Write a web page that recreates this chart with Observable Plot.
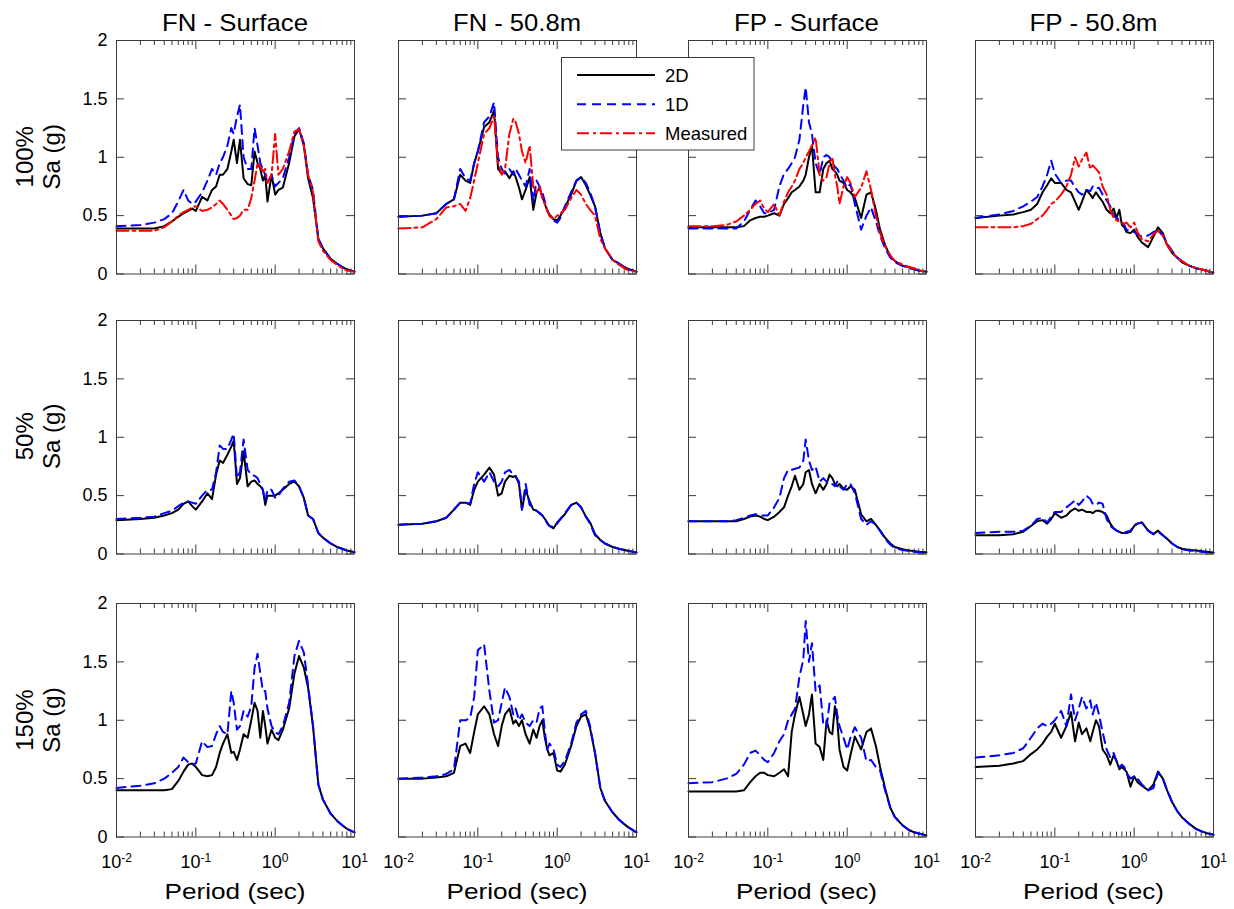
<!DOCTYPE html>
<html>
<head>
<meta charset="utf-8">
<script src="https://cdn.jsdelivr.net/npm/d3@7"></script>
<script src="https://cdn.jsdelivr.net/npm/@observablehq/plot@0.6"></script>
<style>
  html, body { margin: 0; padding: 0; background: #ffffff; }
  #chart { position: relative; width: 1234px; height: 909px; overflow: hidden; font-family: "Liberation Sans", Arial, sans-serif; }
  #chart svg { position: absolute; }
</style>
</head>
<body>
<div id="chart"></div>
<script>
// ---------------- DATA ----------------
const period = [0.01,0.02,0.03,0.04,0.05,0.06,0.07,0.08,0.09,0.1,0.12,0.14,0.16,0.18,0.2,0.22,0.25,0.28,0.3,0.33,0.36,0.4,0.45,0.5,0.55,0.6,0.65,0.7,0.75,0.8,0.9,1,1.1,1.25,1.5,1.75,2,2.3,2.6,3,3.5,4,5,6,7,8,10];

const columnTitles = ["FN - Surface", "FN - 50.8m", "FP - Surface", "FP - 50.8m"];
const rowLabels = ["100%", "50%", "150%"];
const yAxisLabel = "Sa (g)";
const xAxisLabel = "Period (sec)";
const yTickValues = [0, 0.5, 1, 1.5, 2];
const xTickValues = [0.01, 0.1, 1, 10];
const xMinorTickValues = [0.02,0.03,0.04,0.05,0.06,0.07,0.08,0.09,0.2,0.3,0.4,0.5,0.6,0.7,0.8,0.9,2,3,4,5,6,7,8,9];
const seriesNames = ["2D", "1D", "Measured"];

// Row 1 (100%)
const fnSurf100_2D   = [.39,.39,.39,.41,.45,.49,.52,.54,.56, .54,.66,.63,.72,.75, .85,.85,.9,1.05, 1.15,.95,1.15, .82,.77, .76,1.05, .95,.9, .8,.85, .62,.85, .68,.72,.74,.95,1.18, 1.24,1.1,.82, .65,.3, .22,.13,.09,.06,.04,.02];
const fnSurf100_1D   = [.41,.42,.44,.47,.52,.62,.72,.63,.6, .62,.7,.8,.9,.85, .95,1.0,1.1,1.25, 1.2,1.35,1.45, 1.0,.9, .9,1.25, 1.1,.95, .9,.85, .78,.85, .75,.78,.82,1.0,1.2, 1.25,1.12,.85, .72,.3, .22,.13,.09,.06,.04,.02];
const fnSurf100_meas = [.37,.37,.37,.4,.45,.5,.53,.55,.57, .58,.54,.55,.57,.6, .63,.6,.55,.5, .47,.48,.5, .55,.55, .65,.8, .95,.92, .88,.9, .78,.85, 1.2,.85,.9,1.05,1.22, 1.24,1.1,.85, .7,.28, .2,.12,.08,.05,.03,.02];

const fn508_100_2D   = [.49,.5,.52,.6,.64,.85,.8,.78,.95, 1.05,1.26,1.3,1.4,.9, .86,.88,.82,.88, .83,.74,.64, .72,.83, .55,.7, .74,.66, .6,.54, .51,.47, .46,.5,.57,.68,.8, .83,.76,.68, .58,.35, .22,.12,.09,.06,.04,.02];
const fn508_100_1D   = [.49,.5,.52,.6,.64,.9,.82,.8,.95, 1.05,1.3,1.35,1.47,1.0, .9,.86,.9,.85, .9,.85,.8, .75,.9, .62,.8, .75,.7, .62,.55, .5,.46, .44,.48,.58,.7,.8, .83,.78,.7, .58,.35, .22,.12,.09,.06,.04,.02];
const fn508_100_meas = [.39,.4,.47,.57,.58,.6,.54,.65,.8, .95,1.2,1.25,1.35,.95, .85,.9,1.2,1.33, 1.3,1.2,1.05, .95,1.1, .75,.7, .75,.65, .6,.55, .5,.47, .5,.52,.55,.65,.72, .68,.6,.55, .5,.3, .22,.12,.08,.05,.03,.02];

const fpSurf100_2D   = [.4,.4,.4,.4,.41,.46,.48,.49,.49, .5,.52,.5,.6,.65, .7,.72,.75,.8, .85,1.0,1.1, .7,.7, .9,.95, .97,.9, .88,.85, .8,.78, .72,.7,.65,.48,.68, .7,.55,.38, .25,.15, .11,.07,.06,.04,.03,.02];
const fpSurf100_1D   = [.39,.39,.39,.39,.45,.55,.63,.58,.52, .52,.55,.75,.86,.9, .95,1.0,1.15,1.45, 1.6,1.3,1.2, .95,.85, 1.0,1.02, 1.0,.95, .92,.9, .86,.8, .74,.77,.6,.38,.5, .57,.45,.33, .22,.14, .1,.07,.05,.04,.03,.02];
const fpSurf100_meas = [.41,.41,.42,.45,.5,.55,.6,.63,.56, .53,.6,.5,.62,.7, .75,.8,.9,.95, 1.0,1.05,1.1, 1.17,.85, .8,.83, .95,1.0, .85,.75, .6,.75, .83,.78,.66,.74,.88, .72,.5,.35, .24,.16, .11,.08,.06,.05,.03,.02];

const fp508_100_2D   = [.48,.5,.51,.53,.55,.6,.7,.76,.82, .78,.78,.72,.7,.62, .55,.62,.72,.68, .65,.7,.66, .62,.55, .52,.56, .48,.55, .42,.4, .36,.35, .38,.32,.27,.23,.32, .4,.35,.25, .18,.14, .1,.07,.05,.04,.03,.01];
const fp508_100_1D   = [.48,.51,.54,.58,.62,.66,.75,.85,.97, .86,.78,.8,.8,.74, .7,.68,.72,.71, .75,.73,.74, .68,.63, .58,.5, .48,.46, .45,.42, .38,.37, .36,.34,.32,.33,.36, .37,.33,.26, .2,.14, .11,.07,.05,.04,.03,.01];
const fp508_100_meas = [.4,.4,.4,.41,.43,.47,.5,.55,.6, .62,.68,.75,.85,1.0, .92,.98,1.04,.9, .93,.9,.87, .75,.68, .55,.48, .46,.45, .44,.43, .44,.4, .44,.36,.3,.28,.34, .37,.33,.25, .19,.14, .11,.07,.05,.04,.03,.01];

// Row 2 (50%)
const fnSurf50_2D = [.29,.3,.31,.33,.35,.38,.43,.45,.41, .38,.45,.52,.47,.68, .8,.78,.85,.92, .97,.6,.65, .88,.58, .62,.63, .6,.58, .55,.42, .5,.5, .5,.52,.55,.6,.62, .58,.48,.33, .3,.18, .14,.09,.06,.045,.03,.015];
const fnSurf50_1D = [.3,.31,.32,.35,.37,.41,.44,.45,.44, .43,.5,.55,.55,.7, .93,.9,.9,.98, 1.03,.65,.7, .98,.72, .68,.67, .65,.6, .55,.45, .55,.55, .48,.5,.56,.62,.63, .58,.48,.33, .3,.18, .14,.09,.06,.045,.03,.015];

const fn508_50_2D = [.25,.26,.28,.31,.38,.44,.44,.42,.55, .62,.68,.74,.68,.5, .52,.62,.67,.66, .67,.6,.38, .55,.45, .38,.37, .35,.33, .3,.27, .24,.22, .27,.3,.34,.42,.44, .4,.32,.27, .17,.12, .09,.06,.045,.035,.025,.014];
const fn508_50_1D = [.25,.26,.28,.31,.38,.44,.44,.43,.6, .7,.62,.7,.62,.58, .62,.7,.72,.68, .66,.62,.38, .6,.42, .4,.37, .35,.33, .3,.26, .24,.23, .26,.3,.35,.42,.44, .4,.32,.26, .16,.12, .09,.06,.045,.035,.025,.014];

const fpSurf50_2D = [.28,.28,.28,.28,.3,.32,.33,.32,.3, .29,.32,.36,.4,.5, .58,.67,.55,.6, .7,.72,.6, .52,.6, .55,.6, .68,.65, .6,.58, .6,.56, .55,.58,.55,.34,.28, .3,.25,.2, .14,.09, .06,.04,.03,.025,.02,.014];
const fpSurf50_1D = [.28,.28,.28,.29,.31,.33,.34,.33,.33, .33,.4,.48,.65,.72, .72,.73,.74,.8, .98,.8,.72, .75,.62, .65,.62, .6,.6, .58,.62, .58,.55, .6,.6,.52,.3,.25, .28,.25,.2, .13,.08, .05,.035,.025,.02,.015,.01];

const fp508_50_2D = [.16,.16,.17,.19,.24,.28,.29,.26,.3, .35,.31,.33,.37,.39, .37,.38,.36,.36, .35,.37,.37, .36,.33, .26,.22, .2,.19, .18,.18, .18,.19, .24,.26,.27,.2,.17, .2,.16,.13, .09,.06, .045,.035,.03,.025,.02,.012];
const fp508_50_1D = [.18,.19,.19,.2,.24,.3,.31,.27,.32, .36,.36,.4,.43,.46, .42,.45,.5,.47, .43,.42,.44, .43,.3, .24,.22, .2,.19, .18,.18, .19,.2, .25,.26,.27,.2,.17, .19,.16,.13, .09,.06, .04,.03,.025,.02,.015,.01];

// Row 3 (150%)
const fnSurf150_2D = [.4,.4,.4,.4,.41,.48,.56,.62,.63, .6,.53,.52,.53,.6, .72,.8,.88,.72, .73,.66,.75, .88,.85, 1.0,1.15, 1.08,.85, 1.08,.95, .8,.92, .85,.83,.92,1.1,1.4, 1.55,1.45,1.28, .95,.45, .32,.2,.14,.1,.07,.04];
const fnSurf150_1D = [.42,.44,.46,.5,.55,.6,.68,.64,.62, .63,.82,.77,.78,.88, .95,.9,.88,1.25, 1.15,.92,.95, 1.08,1.03, 1.12,1.45, 1.57,1.4, 1.25,1.25, 1.1,.95, .9,.88,.95,1.15,1.55, 1.68,1.58,1.3, .95,.45, .32,.2,.14,.1,.07,.04];

const fn508_150_2D = [.5,.5,.51,.52,.55,.78,.8,.72,.9, 1.05,1.12,1.05,.88,.78, .95,1.05,1.1,.97, 1.0,.95,1.0, .88,.8, .92,.85, .95,1.0, .85,.75, .7,.72, .57,.56,.62,.78,.95, 1.03,1.05,.93, .72,.42, .31,.21,.15,.11,.08,.04];
const fn508_150_1D = [.5,.51,.52,.54,.58,1.0,1.0,1.02,1.2, 1.6,1.65,1.25,.98,1.0, 1.15,1.28,1.2,1.05, 1.1,1.0,1.05, .98,.95, 1.0,.98, 1.1,1.12, .9,.75, .8,.75, .62,.6,.65,.8,.98, 1.05,1.08,.95, .72,.42, .31,.21,.15,.11,.08,.04];

const fpSurf150_2D = [.39,.39,.39,.39,.4,.47,.52,.55,.55, .53,.52,.55,.58,.52, .9,1.05,1.2,1.05, .95,1.05,1.22, .8,.77, .66,1.0, .9,.88, 1.12,1.0, .75,.6, .57,.7,.86,.75,.9, .93,.78,.6, .42,.25, .17,.1,.06,.04,.03,.014];
const fpSurf150_1D = [.46,.47,.5,.54,.62,.72,.74,.7,.66, .64,.72,.82,.88,1.0, 1.05,1.1,1.37,1.52, 1.85,1.5,1.66, 1.25,1.3, .97,.94, 1.15,1.17, 1.2,1.05, .95,.85, .75,.85,.94,.85,.65, .66,.6,.57, .4,.25, .17,.1,.06,.04,.03,.014];

const fp508_150_2D = [.6,.61,.63,.65,.71,.75,.8,.86,.9, .97,.85,.95,1.07,.82, .98,.88,.93,.82, .9,1.0,.95, .75,.7, .62,.7, .65,.58, .6,.58, .56,.43, .52,.47,.44,.4,.45, .56,.5,.4, .3,.22, .17,.11,.07,.05,.035,.02];
const fp508_150_1D = [.68,.7,.72,.76,.85,.93,.97,.95,.97, 1.0,1.08,.95,1.22,1.0, 1.1,1.2,1.1,1.17, 1.05,1.15,1.05, .9,.75, .68,.72, .65,.6, .62,.6, .55,.5, .52,.5,.45,.4,.42, .55,.5,.4, .3,.22, .17,.11,.07,.05,.035,.02];

// panel -> [row, column, [2D, 1D, Measured]]
const panelSeries = [
  [0, 0, [fnSurf100_2D, fnSurf100_1D, fnSurf100_meas]],
  [0, 1, [fn508_100_2D, fn508_100_1D, fn508_100_meas]],
  [0, 2, [fpSurf100_2D, fpSurf100_1D, fpSurf100_meas]],
  [0, 3, [fp508_100_2D, fp508_100_1D, fp508_100_meas]],
  [1, 0, [fnSurf50_2D, fnSurf50_1D, null]],
  [1, 1, [fn508_50_2D, fn508_50_1D, null]],
  [1, 2, [fpSurf50_2D, fpSurf50_1D, null]],
  [1, 3, [fp508_50_2D, fp508_50_1D, null]],
  [2, 0, [fnSurf150_2D, fnSurf150_1D, null]],
  [2, 1, [fn508_150_2D, fn508_150_1D, null]],
  [2, 2, [fpSurf150_2D, fpSurf150_1D, null]],
  [2, 3, [fp508_150_2D, fp508_150_1D, null]]
];

// ---------------- STYLE / LAYOUT ----------------
const FONT = '"Liberation Sans", Arial, Helvetica, sans-serif';
const seriesColors = ["#000000", "#0000ff", "#ff0000"];
const seriesDashes = [null, "9,6", "12,4,3,4"];
const seriesWidths = [2, 2, 2];
const frameColor = "#3a3a3a";
const colLeft = [116, 398, 687.5, 974.5];
const rowTop = [40, 319.5, 603.3];
const FW = 238, FH = 233.5;
const mL = 60, mR = 12, mT = 12, mB = 72;

const chart = document.getElementById("chart");

function buildPanel(r, c, arrays) {
  const table = [];
  arrays.forEach((arr, s) => {
    if (!arr) return;
    arr.forEach((v, i) => table.push({series: seriesNames[s], period: period[i], sa: v}));
  });
  const marks = [
    Plot.ruleY(yTickValues, {y: d => d, insetRight: FW - 8, stroke: frameColor}),
    Plot.ruleY(yTickValues, {y: d => d, insetLeft: FW - 8, stroke: frameColor}),
    Plot.ruleX(xTickValues, {x: d => d, insetTop: FH - 9, stroke: frameColor}),
    Plot.ruleX(xTickValues, {x: d => d, insetBottom: FH - 9, stroke: frameColor}),
    Plot.ruleX(xMinorTickValues, {x: d => d, insetTop: FH - 5, stroke: frameColor}),
    Plot.ruleX(xMinorTickValues, {x: d => d, insetBottom: FH - 5, stroke: frameColor})
  ];
  seriesNames.forEach((name, s) => {
    const data = table.filter(d => d.series === name);
    if (!data.length) return;
    const opts = {x: "period", y: "sa", stroke: seriesColors[s], strokeWidth: seriesWidths[s], strokeLinejoin: "round"};
    if (seriesDashes[s]) opts.strokeDasharray = seriesDashes[s];
    marks.push(Plot.line(data, opts));
  });
  marks.push(Plot.frame({stroke: frameColor, strokeWidth: 1}));
  if (c === 0) {
    marks.push(Plot.axisY(yTickValues, {anchor: "left", tickSize: 0, tickPadding: 9, label: null, fontSize: 18, tickFormat: d => String(d)}));
  }
  if (r === 2) {
    marks.push(Plot.axisX(xTickValues, {anchor: "bottom", tickSize: 0, tickPadding: 18, label: null, fontSize: 18, tickFormat: d => String(Math.round(Math.log10(d)))}));
  }
  const svg = Plot.plot({
    width: mL + FW + mR,
    height: mT + FH + mB,
    marginLeft: mL, marginRight: mR, marginTop: mT, marginBottom: mB,
    x: {type: "log", domain: [0.01, 10], axis: r === 2 ? undefined : null},
    y: {domain: [0, 2], axis: c === 0 ? undefined : null},
    style: {background: "none", overflow: "visible", fontFamily: FONT, fontSize: "18px", color: "#000"},
    marks
  });
  svg.style.left = (colLeft[c] - mL) + "px";
  svg.style.top = (rowTop[r] - mT) + "px";
  svg.style.maxWidth = "none";
  // superscript exponents on log axis: 10^e
  svg.querySelectorAll('[aria-label="x-axis tick label"] text').forEach(t => {
    const e = t.textContent;
    t.textContent = "10";
    const ts = document.createElementNS("http://www.w3.org/2000/svg", "tspan");
    ts.setAttribute("dy", "-0.5em");
    ts.setAttribute("font-size", "12");
    ts.textContent = e;
    t.appendChild(ts);
  });
  chart.appendChild(svg);
}

panelSeries.forEach(([r, c, arrays]) => buildPanel(r, c, arrays));

// ---------------- TITLES, LABELS, LEGEND ----------------
const overlay = d3.select(chart).append("svg")
  .attr("width", 1234).attr("height", 909)
  .style("left", "0px").style("top", "0px")
  .attr("font-family", FONT).attr("fill", "#000");

const titleWidths = [146, 128, 145, 128];
columnTitles.forEach((t, c) => {
  overlay.append("text")
    .attr("x", colLeft[c] + FW / 2).attr("y", 31)
    .attr("text-anchor", "middle").attr("font-size", 24)
    .attr("textLength", titleWidths[c]).attr("lengthAdjust", "spacingAndGlyphs")
    .text(t);
  overlay.append("text")
    .attr("x", colLeft[c] + FW / 2).attr("y", 899)
    .attr("text-anchor", "middle").attr("font-size", 22)
    .attr("textLength", 141).attr("lengthAdjust", "spacingAndGlyphs")
    .text(xAxisLabel);
});

rowLabels.forEach((t, r) => {
  const yc = rowTop[r] + FH / 2;
  overlay.append("text")
    .attr("transform", `translate(33,${yc}) rotate(-90)`)
    .attr("text-anchor", "middle").attr("font-size", 24)
    .text(t);
  overlay.append("text")
    .attr("transform", `translate(60,${yc}) rotate(-90)`)
    .attr("text-anchor", "middle").attr("font-size", 24)
    .text(yAxisLabel);
});

// legend
const lg = overlay.append("g");
lg.append("rect").attr("x", 561.5).attr("y", 57.5).attr("width", 192.5).attr("height", 92.5)
  .attr("fill", "#ffffff").attr("stroke", frameColor).attr("stroke-width", 1);
const legendRowY = [75, 104.3, 133.3];
seriesNames.forEach((name, s) => {
  const ln = lg.append("line")
    .attr("x1", 577).attr("x2", 655).attr("y1", legendRowY[s]).attr("y2", legendRowY[s])
    .attr("stroke", seriesColors[s]).attr("stroke-width", seriesWidths[s]);
  if (seriesDashes[s]) ln.attr("stroke-dasharray", seriesDashes[s]);
  lg.append("text").attr("x", 665).attr("y", legendRowY[s] + 6.5)
    .attr("font-size", 18.5).text(name);
});
</script>
</body>
</html>
